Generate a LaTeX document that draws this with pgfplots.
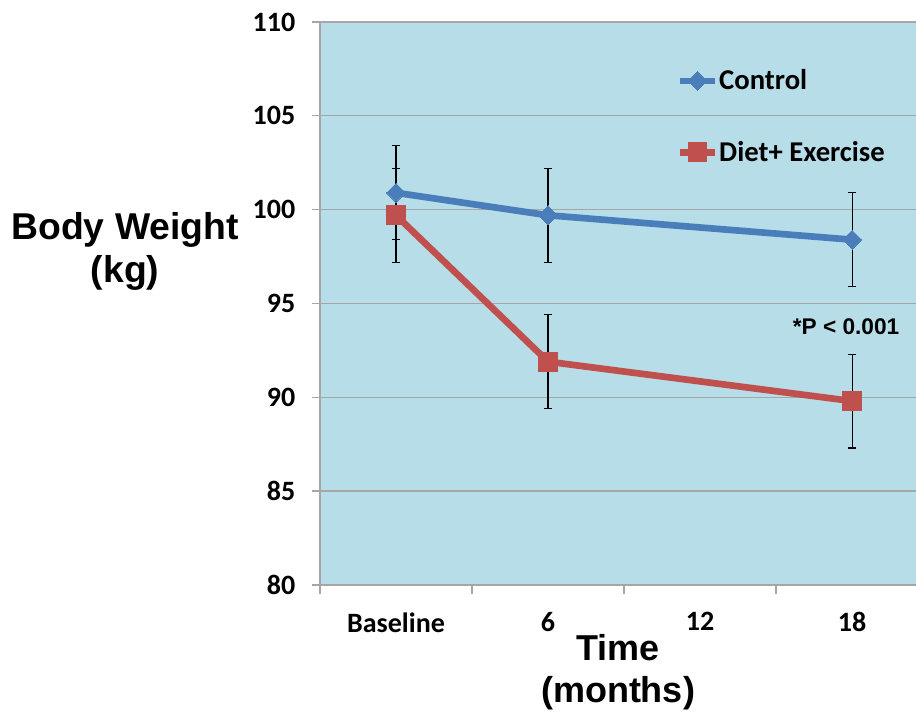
\documentclass[border=0pt]{standalone}
\usepackage{pgfplots}
\pgfplotsset{compat=1.18}
\usepackage{fontspec}
\setmainfont{Carlito}
\newfontfamily\arial{Liberation Sans}
\definecolor{bgblue}{HTML}{B7DDE8}
\definecolor{ctrl}{HTML}{4A7EBB}
\definecolor{diet}{HTML}{C0504D}
\definecolor{gridc}{HTML}{A6A6A6}
\begin{document}
\begin{tikzpicture}
\useasboundingbox (0,0) rectangle (687pt,537.75pt);
\begin{axis}[
  at={(240pt,99pt)}, anchor=south west,
  scale only axis, width=447pt, height=422.25pt,
  xmin=-0.5, xmax=3.42, ymin=80, ymax=110,
  axis background/.style={fill=bgblue},
  axis x line*=bottom, axis y line*=left,
  axis line style={gridc, line width=1pt},
  ytick={80,85,...,110},
  ymajorgrids, grid style={gridc, line width=1pt},
  xtick={0,1,2,3},
  xticklabels={Baseline,6,12,18},
  minor xtick={-0.5,0.5,1.5,2.5},
  major x tick style={draw=none},
  minor x tick style={gridc, line width=1pt},
  major y tick style={gridc, line width=1pt},
  tick align=outside,
  minor tick length=7pt, major tick length=6pt,
  /pgf/number format/assume math mode=true,
  tick label style={font=\bfseries\fontsize{21}{25}\selectfont, text=black},
  xticklabel style={yshift=-11pt},
  yticklabel style={xshift=-9pt},
  ylabel={Body Weight\\(kg)},
  ylabel style={at={(axis description cs:-0.327,0.592)}, anchor=center, rotate=-90, align=center, font=\arial\bfseries\fontsize{28}{32}\selectfont},
  xlabel={Time\\(months)},
  xlabel style={at={(axis description cs:0.5,-0.155)}, anchor=center, align=center, font=\arial\bfseries\fontsize{27}{32}\selectfont},
  legend style={at={(axis description cs:0.592,0.925)}, anchor=north west, draw=none, fill=none, font=\bfseries\fontsize{21.5}{25}\selectfont, row sep=33pt, nodes={inner xsep=1pt}},
  legend cell align=left,
  legend image code/.code={\draw[mark repeat=2,mark phase=2,#1] plot coordinates {(0cm,0cm) (0.45cm,0cm) (0.9cm,0cm)};},
]
\addplot[ctrl, line width=5pt, mark=square*, mark size=5pt, mark options={rotate=45, solid, line width=0pt},
  error bars/.cd, y dir=both, y explicit,
  error bar style={black, line width=0.9pt},
  error mark options={rotate=90, black, mark size=3pt, line width=0.9pt}]
  coordinates {(0,100.9) +- (0,2.5) (1,99.7) +- (0,2.5) (3,98.4) +- (0,2.5)};
\addlegendentry{Control}
\addplot[diet, line width=5pt, mark=square*, mark size=7pt, mark options={solid, line width=0pt},
  error bars/.cd, y dir=both, y explicit,
  error bar style={black, line width=0.9pt},
  error mark options={rotate=90, black, mark size=3pt, line width=0.9pt}]
  coordinates {(0,99.7) +- (0,2.5) (1,91.9) +- (0,2.5) (3,89.8) +- (0,2.5)};
\addlegendentry{Diet+ Exercise}
\node[font=\arial\bfseries\fontsize{17}{20}\selectfont] at (axis cs:2.96,93.75) {*P < 0.001};
\end{axis}
\end{tikzpicture}
\end{document}
